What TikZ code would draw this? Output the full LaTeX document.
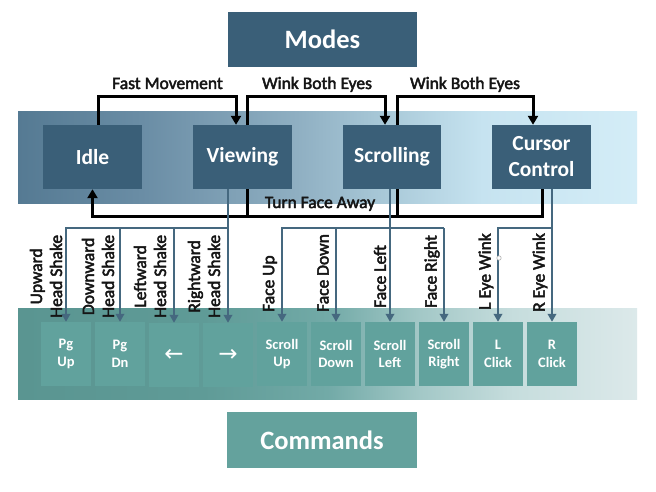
\documentclass[tikz,border=0pt]{standalone}
\usepackage{fontspec}
\setmainfont{Carlito}
\newfontfamily\lblfont[RawFeature={embolden=2.5}]{Carlito}
\newfontfamily\symfont{DejaVu Sans}
\usetikzlibrary{arrows.meta}

\definecolor{modebox}{HTML}{3A5F78}
\definecolor{cmdbox}{HTML}{61A29D}
\definecolor{cmdtitle}{HTML}{64A29D}
\definecolor{bluelink}{HTML}{45687F}
\definecolor{labeltext}{HTML}{151515}

% band colours, left to right
\definecolor{mb0}{HTML}{557A93}
\definecolor{mb1}{HTML}{6A8DA5}
\definecolor{mb2}{HTML}{8FAFC2}
\definecolor{mb3}{HTML}{AACAD9}
\definecolor{mb4}{HTML}{C6E3F0}
\definecolor{mb5}{HTML}{D4EDF7}
\definecolor{cb0}{HTML}{5A9591}
\definecolor{cb1}{HTML}{5F9B97}
\definecolor{cb2}{HTML}{72AAA7}
\definecolor{cb3}{HTML}{A3C8C7}
\definecolor{cb4}{HTML}{C6DDDD}
\definecolor{cb5}{HTML}{DCE9EA}

% the path is fitted to the 25bp..75bp part of the shading
\pgfdeclarehorizontalshading{modeband}{100bp}{color(0bp)=(mb0); color(25bp)=(mb0);
  color(35bp)=(mb1); color(47.5bp)=(mb2); color(55bp)=(mb3); color(62.5bp)=(mb4);
  color(75bp)=(mb5); color(100bp)=(mb5)}
\pgfdeclarehorizontalshading{cmdband}{100bp}{color(0bp)=(cb0); color(25bp)=(cb0);
  color(40bp)=(cb1); color(50bp)=(cb2); color(57.5bp)=(cb3); color(65bp)=(cb4);
  color(75bp)=(cb5); color(100bp)=(cb5)}

\tikzset{
  titlebox/.style={fill=#1, text=white, inner sep=0pt,
    font=\fontsize{26.5}{30}\selectfont\bfseries},
  modenode/.style={fill=modebox, text=white, inner sep=0pt, align=center,
    minimum width=99pt, minimum height=64pt,
    font=\fontsize{21.5}{26}\selectfont\bfseries},
  cmdnode/.style={fill=cmdbox, text=white, inner sep=0pt, align=center,
    minimum width=50pt, minimum height=64pt,
    font=\fontsize{14.5}{17.5}\selectfont\bfseries},
  arrowsym/.style={font=\symfont\fontsize{23}{23}\selectfont},
  lbl/.style={text=labeltext, inner sep=0pt, font=\lblfont\fontsize{17.5}{20}\selectfont},
  vlbl/.style={lbl, rotate=90, anchor=west, align=center},
  kline/.style={draw=black, line width=3pt, line join=miter},
  karrow/.style={kline, -{Triangle[length=9pt,width=10pt]}},
  bline/.style={draw=bluelink, line width=2.3pt, line join=miter},
  barrow/.style={bline, -{Triangle[length=8pt,width=8.5pt]}},
}

\begin{document}
\begin{tikzpicture}[x=1pt,y=-1pt]
\useasboundingbox (0,0) rectangle (656,492);
\fill[white] (0,0) rectangle (656,492);

% background bands
\shade[shading=modeband] (18,112) rectangle (637,203);
\shade[shading=cmdband] (18,308) rectangle (637,399);

% titles
\node[titlebox=modebox, minimum width=189pt, minimum height=55pt] (modes) at (322.5,39.5) {Modes};
\node[titlebox=cmdtitle, minimum width=190pt, minimum height=56pt] (commands) at (322,440) {Commands};

% modes
\node[modenode] (idle) at (92.5,157) {Idle};
\node[modenode] (view) at (242.5,157) {Viewing};
\node[modenode, minimum width=98pt] (scroll) at (392,157) {Scrolling};
\node[modenode] (cursor) at (541.5,157) {Cursor\\Control};

% commands
\node[cmdnode] (c1) at (66,354) {Pg\\Up};
\node[cmdnode] (c2) at (120,354) {Pg\\Dn};
\node[cmdnode, arrowsym] (c3) at (174,355) {←};
\node[cmdnode, arrowsym] (c4) at (228,355) {→};
\node[cmdnode] (c5) at (282,354) {Scroll\\Up};
\node[cmdnode] (c6) at (336,354) {Scroll\\Down};
\node[cmdnode] (c7) at (390,354) {Scroll\\Left};
\node[cmdnode] (c8) at (444,354) {Scroll\\Right};
\node[cmdnode] (c9) at (498,354) {L\\Click};
\node[cmdnode] (c10) at (552,354) {R\\Click};

% levels of the connector runs
\coordinate (top) at (0,97);
\coordinate (low) at (0,216);
\coordinate (bus) at (0,228);

% mode transitions
\draw[karrow] ([xshift=5.5pt]idle.north) -- ([xshift=5.5pt]idle.north |- top) -| ([xshift=-6.5pt]view.north);
\draw[karrow] ([xshift=4.5pt]view.north) -- ([xshift=4.5pt]view.north |- top) -| ([xshift=-7pt]scroll.north);
\draw[karrow] ([xshift=5pt]scroll.north) -- ([xshift=5pt]scroll.north |- top) -| ([xshift=-8.5pt]cursor.north);
\draw[kline] ([xshift=4.5pt]view.south) -- ([xshift=4.5pt]view.south |- low);
\draw[kline] ([xshift=5pt]scroll.south) -- ([xshift=5pt]scroll.south |- low);
\draw[karrow] ([xshift=0.5pt]cursor.south) -- ([xshift=0.5pt]cursor.south |- low) -| (idle.south);

\node[lbl, anchor=base] (lfast) at (167.5,89) {Fast Movement};
\node[lbl, anchor=base] (lwink1) at (317,89) {Wink Both Eyes};
\node[lbl, anchor=base] (lwink2) at (465,89) {Wink Both Eyes};
\node[lbl, anchor=base] (lturn) at (320,208) {Turn Face Away};

% viewing commands
\draw[barrow] (view.south -| c4.north) -- (c4.north);
\draw[barrow] (c4.north |- bus) -| (c1.north);
\draw[barrow] (c2.north |- bus) -- (c2.north);
\draw[barrow] (c3.north |- bus) -- (c3.north);

% scrolling commands
\draw[barrow] (scroll.south -| c7.north) -- (c7.north);
\draw[barrow] (c8.north |- bus) -| (c5.north);
\draw[barrow] (c8.north |- bus) -- (c8.north);
\draw[barrow] (c6.north |- bus) -- (c6.north);

% cursor commands
\draw[barrow] (cursor.south -| c10.north) -- (c10.north);
\draw[barrow] (c10.north |- bus) -| (c9.north);

% gesture labels
\node[vlbl] (g1) at (46,318) {Upward\\Head Shake};
\node[vlbl] (g2) at (98,318) {Downward\\Head Shake};
\node[vlbl] (g3) at (150,318) {Leftward\\Head Shake};
\node[vlbl] (g4) at (204,318) {Rightward\\Head Shake};
\node[vlbl] (g5) at (270,312) {Face Up};
\node[vlbl] (g6) at (323,312) {Face Down};
\node[vlbl] (g7) at (380,308) {Face Left};
\node[vlbl] (g8) at (432,308) {Face Right};
\node[vlbl] (g9) at (486,310) {L Eye Wink};
\node[vlbl] (g10) at (540,312) {R Eye Wink};

% small handle circle
\draw[gray!60, line width=0.6pt, fill=white] (499,258) circle (2.2pt);
\end{tikzpicture}
\end{document}
